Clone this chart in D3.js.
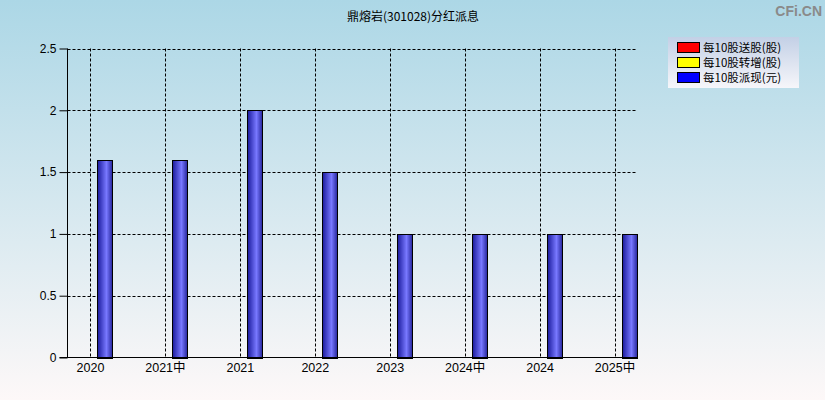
<!DOCTYPE html>
<html>
<head>
<meta charset="utf-8">
<script src="https://cdn.jsdelivr.net/npm/d3@7"></script>
<style>
  html, body { margin: 0; padding: 0; }
  body { width: 825px; height: 400px; overflow: hidden; }
  text { font-family: "Liberation Sans", Arial, sans-serif; }
</style>
</head>
<body>
<svg id="chart" width="825" height="400"></svg>
<script>
// data
let categories = ['2020', '2021中', '2021', '2022', '2023', '2024中', '2024', '2025中']
let songGu = [0, 0, 0, 0, 0, 0, 0, 0]
let zhuanZeng = [0, 0, 0, 0, 0, 0, 0, 0]
let paiXian = [1.6, 1.6, 2, 1.5, 1, 1, 1, 1]
let yTicks = [0, 0.5, 1, 1.5, 2, 2.5]
let seriesNames = ['每10股送股(股)', '每10股转增(股)', '每10股派现(元)']
let seriesColors = ['#ff0000', '#ffff00', '#0000ff']

let svg = d3.select('#chart'),
    width = +svg.attr('width'),
    height = +svg.attr('height')

let defs = svg.append('defs')

// background
let bg = defs.append('linearGradient').attr('id', 'bg')
    .attr('x1', 0).attr('y1', 0).attr('x2', 0).attr('y2', 1)
bg.append('stop').attr('offset', '0%').attr('stop-color', '#acd7e6')
bg.append('stop').attr('offset', '100%').attr('stop-color', '#fdf8f8')

// bar shading
let barGrad = defs.append('linearGradient').attr('id', 'bar')
    .attr('x1', 0).attr('y1', 0).attr('x2', 1).attr('y2', 0)
barGrad.append('stop').attr('offset', '0%').attr('stop-color', '#1a1a9c')
barGrad.append('stop').attr('offset', '60%').attr('stop-color', '#7878ff')
barGrad.append('stop').attr('offset', '100%').attr('stop-color', '#24249a')

let legGrad = defs.append('linearGradient').attr('id', 'leg')
    .attr('x1', 0).attr('y1', 0).attr('x2', 0).attr('y2', 1)
legGrad.append('stop').attr('offset', '0%').attr('stop-color', '#c3d0e6')
legGrad.append('stop').attr('offset', '100%').attr('stop-color', '#f6f6fa')

svg.append('rect').attr('width', width).attr('height', height).attr('fill', 'url(#bg)')

let plotLeft = 67.5, plotRight = 637, plotTop = 48.5, plotBottom = 357.5

let x = d3.scalePoint().domain(categories).range([plotLeft, plotRight]).padding(0.3)
let inner = d3.scaleBand().domain([0, 1, 2]).range([-22.5, 22.5])
let y = d3.scaleLinear().domain([0, 2.5]).range([plotBottom, plotTop])

// title
svg.append('text')
    .attr('x', 413).attr('y', 21)
    .attr('text-anchor', 'middle')
    .style('font-family', '"Noto Sans CJK SC", sans-serif')
    .style('font-size', '12px')
    .text('鼎熔岩(301028)分红派息')

// watermark
svg.append('text')
    .attr('x', 822).attr('y', 16)
    .attr('text-anchor', 'end')
    .style('font-size', '14px')
    .style('font-weight', 'bold')
    .attr('fill', '#8a8a8a')
    .text('CFi.CN')

// grid lines
svg.append('g').selectAll('line')
    .data(yTicks.filter(d => d > 0))
    .enter().append('line')
    .attr('x1', plotLeft).attr('x2', plotRight)
    .attr('y1', d => Math.round(y(d)) + 0.5).attr('y2', d => Math.round(y(d)) + 0.5)
    .attr('stroke', '#000').attr('stroke-dasharray', '3,2')

svg.append('g').selectAll('line')
    .data(categories)
    .enter().append('line')
    .attr('x1', d => Math.round(x(d)) + 0.5).attr('x2', d => Math.round(x(d)) + 0.5)
    .attr('y1', plotTop).attr('y2', plotBottom)
    .attr('stroke', '#000').attr('stroke-dasharray', '3,2')

// bars, one group per category, three series side by side
let allSeries = [songGu, zhuanZeng, paiXian]
allSeries.forEach(function (vals, si) {
    svg.append('g').selectAll('rect')
        .data(vals.map((v, i) => ({ cat: categories[i], v: v })).filter(d => d.v > 0))
        .enter().append('rect')
        .attr('x', d => Math.round(x(d.cat) + inner(si)) + 0.5)
        .attr('width', Math.round(inner.bandwidth()))
        .attr('y', d => Math.round(y(d.v)) + 0.5)
        .attr('height', d => Math.round(plotBottom) - Math.round(y(d.v)))
        .attr('fill', si == 2 ? 'url(#bar)' : seriesColors[si])
        .attr('stroke', '#000')
})

// axes
let yAxis = svg.append('g')
    .attr('transform', 'translate(' + plotLeft + ',0)')
    .call(d3.axisLeft(y).tickValues(yTicks).tickFormat(d3.format('')).tickSize(8).tickPadding(3))
yAxis.select('.domain').attr('d', 'M0,' + plotTop + 'V' + plotBottom)
yAxis.selectAll('text').style('font-size', '12px').attr('fill', '#000')

let xAxis = svg.append('g')
    .attr('transform', 'translate(0,' + plotBottom + ')')
    .call(d3.axisBottom(x).tickSize(0).tickPadding(6))
xAxis.select('.domain').attr('d', 'M' + (plotLeft - 8) + ',0H' + plotRight)
xAxis.selectAll('text')
    .style('font-size', '12.5px')
    .style('font-family', '"Liberation Sans", "Noto Sans CJK SC", sans-serif')
    .attr('fill', '#000')

// legend
let legend = svg.append('g').attr('transform', 'translate(668,37)')
legend.append('rect').attr('width', 131).attr('height', 51).attr('fill', 'url(#leg)')
let item = legend.selectAll('.item')
    .data(seriesNames)
    .enter().append('g')
    .attr('transform', (d, i) => 'translate(0,' + (5 + i * 15) + ')')
item.append('rect')
    .attr('x', 9.5).attr('y', 0.5).attr('width', 22).attr('height', 10)
    .attr('fill', (d, i) => seriesColors[i]).attr('stroke', '#000')
item.append('text')
    .attr('x', 35).attr('y', 10)
    .style('font-family', '"Noto Sans CJK SC", sans-serif')
    .style('font-size', '11.5px')
    .text(d => d)
</script>
</body>
</html>
